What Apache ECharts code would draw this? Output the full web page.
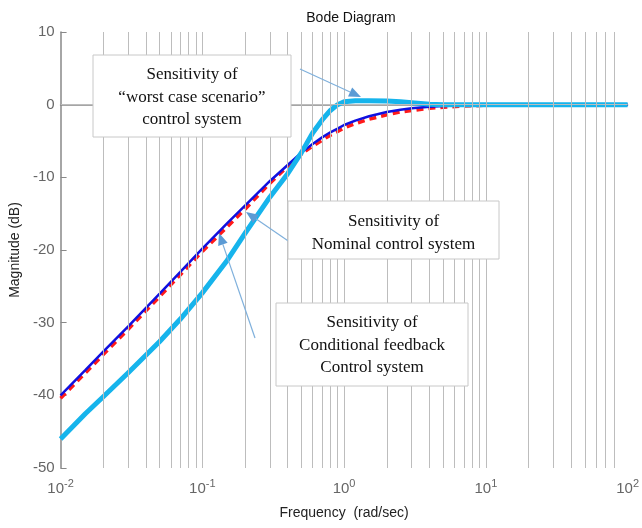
<!DOCTYPE html>
<html>
<head>
<meta charset="utf-8">
<script src="https://cdn.jsdelivr.net/npm/echarts@6/dist/echarts.min.js"></script>
<style>
  html, body { margin: 0; padding: 0; background: #fff; }
  #main { width: 642px; height: 528px; }
</style>
</head>
<body>
<div id="main"></div>
<script>
// frequencies (rad/sec) the curves were read at
var freqs = [0.01, 0.015, 0.02, 0.03, 0.05, 0.07, 0.1, 0.15, 0.2, 0.3, 0.4, 0.5, 0.6, 0.7, 0.8, 0.9, 1, 1.2, 1.5, 2, 2.5, 3, 4, 5, 7, 10, 20, 50, 100];
// magnitudes (dB)
var nominalDb = [-40, -36.5, -34.0, -30.5, -26.0, -23.0, -19.8, -16.3, -13.9, -10.5, -8.3, -6.6, -5.4, -4.5, -3.8, -3.3, -2.8, -2.2, -1.6, -1.0, -0.7, -0.5, -0.3, -0.18, -0.09, -0.04, -0.01, 0, 0];
var conditionalDb = [-40.4, -36.9, -34.4, -30.9, -26.4, -23.4, -20.2, -16.8, -14.4, -10.8, -8.5, -6.8, -5.7, -4.9, -4.2, -3.7, -3.2, -2.6, -2.0, -1.4, -1.0, -0.8, -0.5, -0.35, -0.2, -0.08, -0.02, 0, 0];
var worstDb = [-46.0, -42.5, -40.2, -36.9, -32.6, -29.5, -25.9, -21.4, -17.7, -12.7, -9.5, -6.6, -3.9, -2.1, -0.8, 0.0, 0.4, 0.55, 0.55, 0.5, 0.4, 0.25, 0.05, 0, 0, 0, 0, 0, 0];
// vertical grid lines
var gridFreqs = [0.02, 0.03, 0.04, 0.05, 0.06, 0.07, 0.08, 0.09, 0.1,
                 0.2, 0.3, 0.4, 0.5, 0.6, 0.7, 0.8, 0.9, 1,
                 2, 3, 4, 5, 6, 7, 8, 9, 10,
                 20, 30, 40, 50, 60, 70, 80];
// x tick label exponents
var decadeExps = {'0.01': '-2', '0.1': '-1', '1': '0', '10': '1', '100': '2'};

function pairs(ys) {
    return freqs.map(function (f, i) { return [f, ys[i]]; });
}

// thin arrow with a filled head, pixel coordinates
function arrow(x1, y1, x2, y2) {
    var dx = x2 - x1, dy = y2 - y1;
    var len = Math.sqrt(dx * dx + dy * dy);
    var ux = dx / len, uy = dy / len;
    var hl = 12, hw = 5;
    var bx = x2 - ux * hl, by = y2 - uy * hl;
    return [{
        type: 'line', silent: true, z: 100,
        shape: {x1: x1, y1: y1, x2: bx, y2: by},
        style: {stroke: '#7fb0dc', lineWidth: 1.2}
    }, {
        type: 'polygon', silent: true, z: 100,
        shape: {points: [[x2, y2], [bx - uy * hw, by + ux * hw], [bx + uy * hw, by - ux * hw]]},
        style: {fill: '#5b9bd5'}
    }];
}

// annotation box with centred serif lines
function noteBox(x, y, w, h, lines, firstY) {
    var items = [{
        type: 'rect', silent: true, z: 100,
        shape: {x: x, y: y, width: w, height: h},
        style: {fill: '#fff', stroke: '#c8c8c8', lineWidth: 1}
    }];
    lines.forEach(function (t, i) {
        items.push({
            type: 'text', silent: true, z: 101,
            style: {
                text: t, x: x + w / 2, y: firstY + i * 22.5,
                align: 'center', verticalAlign: 'middle',
                fontFamily: '"Liberation Serif", "Times New Roman", serif',
                fontSize: 17, fill: '#111'
            }
        });
    });
    return items;
}

var graphics = []
    .concat(arrow(300, 69, 361, 97))
    .concat(arrow(297, 247, 246, 212))
    .concat(arrow(255, 338, 219, 233))
    .concat(noteBox(93, 55, 198, 82, ['Sensitivity of', '\u201cworst case scenario\u201d', 'control system'], 75))
    .concat(noteBox(288, 201, 211, 58, ['Sensitivity of', 'Nominal control system'], 222))
    .concat(noteBox(276, 303, 192, 83, ['Sensitivity of', 'Conditional feedback', 'Control system'], 323));

var chart = echarts.init(document.getElementById('main'));
var option = {
    backgroundColor: '#fff',
    animation: false,
    title: {
        text: 'Bode Diagram',
        left: 346, top: 6, textAlign: 'center',
        textStyle: {fontFamily: 'Liberation Sans, Arial', fontSize: 14, fontWeight: 'normal', color: '#111'}
    },
    grid: {left: 60, right: 11, top: 32, bottom: 60},
    xAxis: {
        type: 'log', logBase: 10, min: 0.01, max: 100,
        name: 'Frequency  (rad/sec)', nameLocation: 'middle', nameGap: 38,
        nameTextStyle: {fontFamily: 'Liberation Sans, Arial', fontSize: 14, color: '#222'},
        axisLine: {lineStyle: {color: '#888', width: 1.5}},
        axisTick: {show: false},
        splitLine: {show: false},
        axisLabel: {
            margin: 10,
            formatter: function (v) {
                var k = String(+v.toPrecision(3));
                return '{b|10}{s|' + (decadeExps[k] || '') + '}';
            },
            rich: {
                b: {fontFamily: 'Liberation Sans, Arial', fontSize: 15, color: '#666'},
                s: {fontFamily: 'Liberation Sans, Arial', fontSize: 11, color: '#666', padding: [0, 0, 10, 0]}
            }
        }
    },
    yAxis: {
        type: 'value', min: -50, max: 10, interval: 10,
        name: 'Magnitude (dB)', nameLocation: 'middle', nameGap: 34,
        nameTextStyle: {fontFamily: 'Liberation Sans, Arial', fontSize: 14, color: '#222'},
        axisLine: {show: true, lineStyle: {color: '#888', width: 1.5}},
        axisTick: {show: true, inside: true, length: 6, lineStyle: {color: '#888'}},
        splitLine: {show: false},
        axisLabel: {margin: 6, fontFamily: 'Liberation Sans, Arial', fontSize: 15, color: '#666'}
    },
    series: [{
        name: 'grid', type: 'line', data: [], silent: true,
        markLine: {
            silent: true, symbol: 'none', label: {show: false},
            lineStyle: {color: '#bdbdbd', width: 1, type: 'solid'},
            data: gridFreqs.map(function (f) { return {xAxis: f}; }).concat([{yAxis: 0}])
        }
    }, {
        name: 'Conditional feedback', type: 'line', data: pairs(conditionalDb),
        showSymbol: false,
        lineStyle: {color: '#ff1a1a', width: 3.5, type: [7, 5]}
    }, {
        name: 'Nominal', type: 'line', data: pairs(nominalDb),
        showSymbol: false,
        lineStyle: {color: '#1010e0', width: 2.5}
    }, {
        name: 'Worst case', type: 'line', data: pairs(worstDb),
        showSymbol: false,
        lineStyle: {color: '#16b4ec', width: 5, join: 'round'}
    }],
    graphic: graphics
};
chart.setOption(option);
</script>
</body>
</html>
